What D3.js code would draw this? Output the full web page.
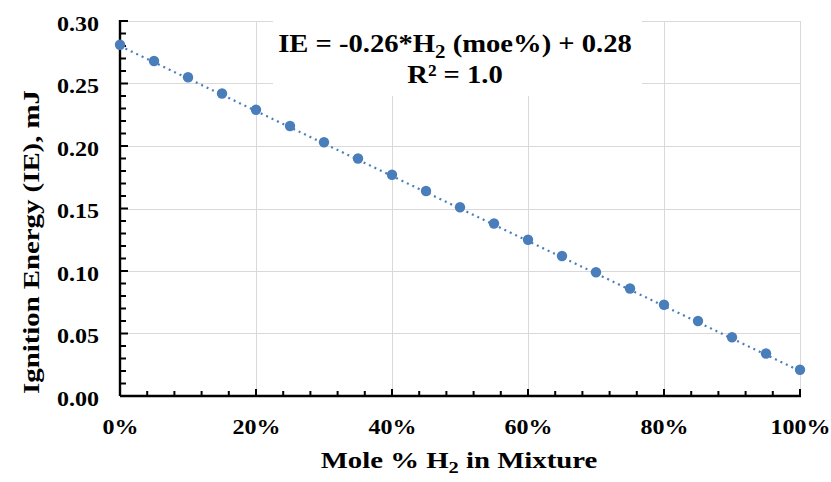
<!DOCTYPE html>
<html>
<head>
<meta charset="utf-8">
<script src="https://cdn.jsdelivr.net/npm/d3@7"></script>
<style>
  html, body { margin: 0; padding: 0; background: #fff; }
  svg { display: block; }
  text { font-family: "Liberation Serif", "Times New Roman", serif; font-weight: bold; fill: #000; }
</style>
</head>
<body>
<svg id="chart" width="831" height="482"></svg>
<script>
// Hydrogen mole fraction (0..1) and measured ignition energy (mJ)
const h2Fraction = [0, 0.05, 0.10, 0.15, 0.20, 0.25, 0.30, 0.35, 0.40, 0.45, 0.50,
                    0.55, 0.60, 0.65, 0.70, 0.75, 0.80, 0.85, 0.90, 0.95, 1.00];
const ignitionEnergy = [0.281, 0.268, 0.255, 0.242, 0.229, 0.216, 0.203, 0.190, 0.177, 0.164, 0.151,
                        0.138, 0.125, 0.112, 0.099, 0.086, 0.073, 0.060, 0.047, 0.034, 0.021];
// Linear fit coefficients shown in the annotation
const fitSlope = -0.26;
const fitIntercept = 0.28;
const xTickValues = [0, 0.2, 0.4, 0.6, 0.8, 1.0];
const yTickValues = [0, 0.05, 0.10, 0.15, 0.20, 0.25, 0.30];

const svg = d3.select("#chart");
const plotLeft = 120, plotRight = 800, plotTop = 21, plotBottom = 396;
const widen = 1.2; // horizontal widening applied to the serif labels

const x = d3.scaleLinear().domain([0, 1]).range([plotLeft, plotRight]);
const y = d3.scaleLinear().domain([0, 0.30]).range([plotBottom, plotTop]);

// gridlines
const grid = svg.append("g").attr("stroke", "#d9d9d9").attr("stroke-width", 1);
grid.selectAll("line.h").data(yTickValues.filter(d => d > 0)).join("line")
  .attr("x1", plotLeft).attr("x2", plotRight)
  .attr("y1", d => Math.round(y(d)) + 0.5).attr("y2", d => Math.round(y(d)) + 0.5);
grid.selectAll("line.v").data(xTickValues.filter(d => d > 0)).join("line")
  .attr("y1", plotTop).attr("y2", plotBottom)
  .attr("x1", d => Math.round(x(d)) + 0.5).attr("x2", d => Math.round(x(d)) + 0.5);

// equation box (masks gridlines)
svg.append("rect").attr("x", 273).attr("y", 12).attr("width", 369).attr("height", 84).attr("fill", "#fff");

// trendline
svg.append("line")
  .attr("x1", x(0)).attr("y1", y(fitIntercept))
  .attr("x2", x(1)).attr("y2", y(fitIntercept + fitSlope))
  .attr("stroke", "#4a7ebb").attr("stroke-width", 2.2)
  .attr("stroke-dasharray", "2,4");

// axes with minor ticks
const xMinor = d3.range(0, 26).map(i => i * 0.04);
const yMinor = d3.range(0, 31).map(i => i * 0.01);
const axG = svg.append("g").attr("stroke", "#000");
axG.selectAll("line.xm").data(xMinor).join("line")
  .attr("x1", d => x(d)).attr("x2", d => x(d))
  .attr("y1", plotBottom).attr("y2", (d, i) => plotBottom - (i % 5 === 0 ? 7 : 5))
  .attr("stroke-width", 2);
axG.selectAll("line.ym").data(yMinor).join("line")
  .attr("y1", d => y(d)).attr("y2", d => y(d))
  .attr("x1", plotLeft).attr("x2", (d, i) => plotLeft + (i % 5 === 0 ? 8 : 6))
  .attr("stroke-width", 2);
axG.append("line").attr("x1", plotLeft).attr("x2", plotRight + 1).attr("y1", plotBottom).attr("y2", plotBottom).attr("stroke-width", 2.4);
axG.append("line").attr("x1", plotLeft).attr("x2", plotLeft).attr("y1", plotTop - 1).attr("y2", plotBottom).attr("stroke-width", 2.4);

// tick labels via d3 axes (tick lines hidden)
const xAxis = svg.append("g").attr("transform", `translate(0,${plotBottom})`)
  .call(d3.axisBottom(x).tickValues(xTickValues).tickFormat(d3.format(".0%")).tickSize(0).tickPadding(24));
const yAxis = svg.append("g").attr("transform", `translate(${plotLeft},0)`)
  .call(d3.axisLeft(y).tickValues(yTickValues).tickFormat(d3.format(".2f")).tickSize(0).tickPadding(21));
[xAxis, yAxis].forEach(g => {
  g.select(".domain").remove();
  g.selectAll("text").attr("font-size", 20).attr("font-family", "Liberation Serif")
    .attr("font-weight", "bold").attr("fill", "#000");
});
xAxis.selectAll("text").attr("transform", `scale(${widen},1)`);
yAxis.selectAll("text").attr("x", -21 / widen).attr("transform", `translate(0,3) scale(${widen},1)`);

// markers
svg.append("g").selectAll("circle").data(h2Fraction).join("circle")
  .attr("cx", d => x(d)).attr("cy", (d, i) => y(ignitionEnergy[i]))
  .attr("r", 5.2).attr("fill", "#4a7ebb");

// equation annotation
const eq = svg.append("text").attr("transform", "translate(455,52) scale(1.1,1)")
  .attr("text-anchor", "middle").attr("font-size", 26);
eq.append("tspan").text("IE = -0.26*H");
eq.append("tspan").attr("font-size", 19).attr("dy", 6).text("2");
eq.append("tspan").attr("dy", -6).text(" (moe%) + 0.28");
svg.append("text").attr("transform", "translate(455,83) scale(1.1,1)")
  .attr("text-anchor", "middle").attr("font-size", 26).text("R² = 1.0");

// axis titles
const xt = svg.append("text").attr("transform", `translate(459,468) scale(${widen},1)`)
  .attr("text-anchor", "middle").attr("font-size", 24);
xt.append("tspan").text("Mole % H");
xt.append("tspan").attr("font-size", 17).attr("dy", 5).text("2");
xt.append("tspan").attr("dy", -5).text(" in Mixture");

svg.append("text")
  .attr("transform", `translate(39,242) rotate(-90) scale(${widen},1)`)
  .attr("text-anchor", "middle").attr("font-size", 24)
  .text("Ignition Energy (IE), mJ");
</script>
</body>
</html>
